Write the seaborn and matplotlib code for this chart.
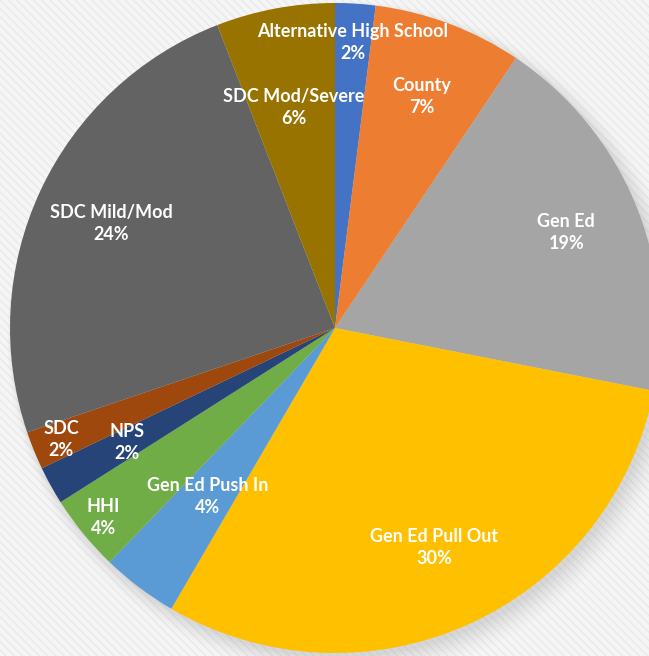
import numpy as np
import matplotlib
matplotlib.use("Agg")
import matplotlib.pyplot as plt
import matplotlib.patches as mpatches
import seaborn as sns

categories = ["Alternative High School", "County", "Gen Ed", "Gen Ed Pull Out",
              "Gen Ed Push In", "HHI", "NPS", "SDC", "SDC Mild/Mod", "SDC Mod/Severe"]
values = [2.0, 7.4, 18.7, 30.3, 3.8, 3.8, 1.9, 1.9, 24.3, 5.9]
colors = ["#4472C4", "#ED7D31", "#A5A5A5", "#FFC000", "#5B9BD5",
          "#70AD47", "#264478", "#9E480E", "#636363", "#997300"]
label_radius = [0.88, 0.76, 0.77, 0.74, 0.65, 0.92, 0.73, 0.91, 0.76, 0.69]

sns.set_theme(style="white")
plt.rcParams["font.family"] = ["Lato", "DejaVu Sans"]
palette = sns.color_palette(colors)

fig = plt.figure(figsize=(6.49, 6.56), dpi=100)
fig.patch.set_facecolor("#f5f5f5")
ax = fig.add_axes([0, 0, 1, 1])
ax.set_facecolor("#f5f5f5")

# striped background
bg = mpatches.Rectangle((0, 0), 1, 1, transform=ax.transAxes, facecolor="#f5f5f5",
                        edgecolor="#e9e9e9", hatch="\\\\\\\\", linewidth=0, zorder=0)
ax.add_patch(bg)

# soft shadow
for i, a in enumerate(np.linspace(0.05, 0.012, 8)):
    sh = mpatches.Circle((0.012 + i * 0.003, -0.015 - i * 0.003), 1.0 + i * 0.006,
                         facecolor="#808080", alpha=a, linewidth=0, zorder=1)
    ax.add_patch(sh)

wedges, _ = ax.pie(values, colors=palette, startangle=90, counterclock=False,
                   radius=1.0, wedgeprops=dict(linewidth=0, zorder=2))
for w in wedges:
    w.set_zorder(2)

for w, name, v, r in zip(wedges, categories, values, label_radius):
    th = np.deg2rad((w.theta1 + w.theta2) / 2)
    ax.text(r * np.cos(th), r * np.sin(th), f"{name}\n{round(v):d}%",
            ha="center", va="center", color="white", fontsize=13,
            fontweight="bold", linespacing=1.35, zorder=5)

ax.set_xlim(-335 / 325, (649 - 335) / 325)
ax.set_ylim(-(656 - 328) / 325, 328 / 325)
ax.set_aspect("equal")
ax.axis("off")

fig.savefig("out.png", dpi=100, facecolor=fig.get_facecolor())
